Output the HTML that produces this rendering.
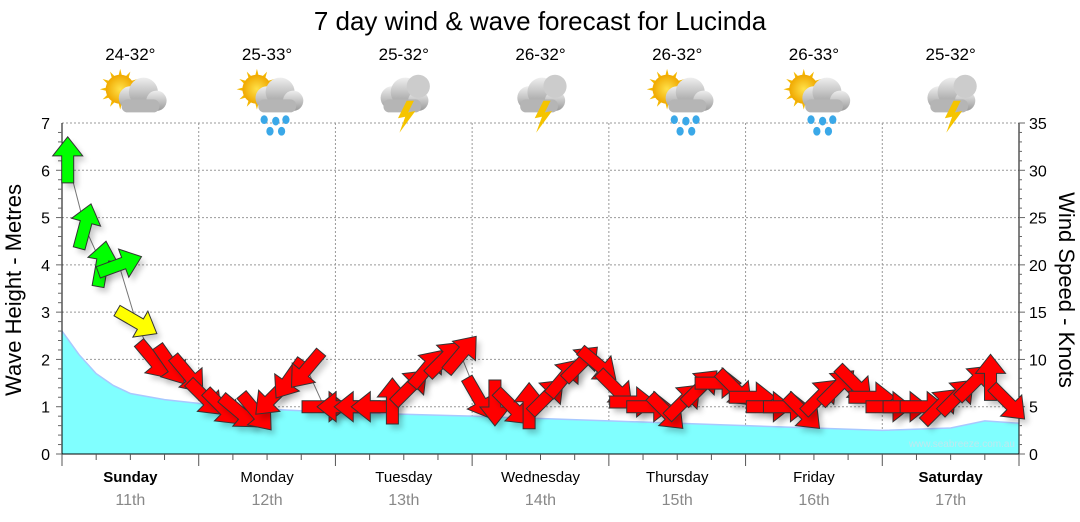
<!DOCTYPE html>
<html><head><meta charset="utf-8">
<style>
body{margin:0;background:#fff;font-family:"Liberation Sans",sans-serif;}
#wrap{position:relative;width:1080px;height:522px;overflow:hidden;}
svg text{font-family:"Liberation Sans",sans-serif;}
</style></head>
<body>
<div id="wrap">
<svg id="chart" width="1080" height="522" xmlns="http://www.w3.org/2000/svg">
<defs>
<filter id="sh" x="-50%" y="-50%" width="200%" height="200%"><feGaussianBlur stdDeviation="3"/></filter>
<radialGradient id="sun" cx="50%" cy="50%" r="50%"><stop offset="0" stop-color="#ffe24a"/><stop offset="1" stop-color="#f0a800"/></radialGradient>
<linearGradient id="cloud" x1="0" y1="0" x2="0" y2="1"><stop offset="0" stop-color="#eeeeee"/><stop offset="1" stop-color="#9a9a9a"/></linearGradient>
</defs>
<g id="grid"></g>
<g id="wave"></g>
<g id="axes"></g>
<g id="wind"></g>
<g id="icons"></g>
<text x="540" y="30" font-size="26" text-anchor="middle" fill="#000">7 day wind &amp; wave forecast for Lucinda</text>
<text transform="translate(21,290) rotate(-90)" font-size="22" text-anchor="middle">Wave Height - Metres</text>
<text transform="translate(1059,290) rotate(90)" font-size="22" text-anchor="middle">Wind Speed - Knots</text>
<text x="1015" y="447" font-size="10" text-anchor="end" fill="#bfe8ee">www.seabreeze.com.au</text>
</svg>
</div>
<script>
const days=["Sunday","Monday","Tuesday","Wednesday","Thursday","Friday","Saturday"];
const dates=["11th","12th","13th","14th","15th","16th","17th"];
const temps=["24-32°","25-33°","25-32°","26-32°","26-32°","26-33°","25-32°"];
const icons=["cloudsun","rainsun","storm","storm","rainsun","rainsun","storm"];
const waveHours=[0,3,6,9,12,18,24,36,48,72,96,120,144,156,162,168];
const waveHeights=[2.6,2.1,1.7,1.45,1.28,1.15,1.07,0.95,0.88,0.8,0.7,0.6,0.5,0.55,0.7,0.65];
const windHours=[1,4,7,10,13,16,19,22,25,28,31,34,37,40,43,46,49,52,55,58,61,64,67,70,73,76,79,82,85,88,91,94,97,100,103,106,109,112,115,118,121,124,127,130,133,136,139,142,145,148,151,154,157,160,163,166];
const windSpeeds=[31,24,20,20,14,10,9.5,8.5,6,5,4.5,4.5,6,8,9,5,5,5,5,5.5,7,9,10,10.5,6,5.5,5,5,6,8,9.5,9.5,7,5.5,5,4.5,5.5,7,7.5,7,6,5,5,4.5,6,7,7.5,6,5,5,5,5,6,7.5,8,5.5];
const windDirs=[0,15,10,70,120,140,145,140,135,135,130,140,225,215,220,90,270,270,270,0,45,40,45,40,150,180,135,0,45,40,45,130,135,90,90,135,45,45,90,135,90,90,90,135,45,45,135,90,90,90,90,45,45,45,0,135];

const NS="http://www.w3.org/2000/svg";
const X0=62,X1=1019,Y0=454,Y7=123;
const xH=h=>X0+(X1-X0)*h/168;
const yM=m=>Y0-(Y0-Y7)*m/7;
const yK=k=>Y0-(Y0-Y7)*k/35;
function mk(tag,attrs,parent){const e=document.createElementNS(NS,tag);for(const k in attrs)e.setAttribute(k,attrs[k]);parent.appendChild(e);return e;}
const grid=document.getElementById('grid'),axes=document.getElementById('axes'),wave=document.getElementById('wave'),wind=document.getElementById('wind'),ic=document.getElementById('icons');

for(let m=1;m<=7;m++){const l=mk('line',{x1:X0,x2:X1,y1:yM(m),y2:yM(m),stroke:'#999','stroke-dasharray':'2,2'},grid);

}
for(let d=1;d<7;d++){const l=mk('line',{x1:xH(d*24),x2:xH(d*24),y1:Y7,y2:Y0,stroke:'#999','stroke-dasharray':'2,2'},grid);

}

// wave
let pts=waveHours.map((h,i)=>xH(h)+','+yM(waveHeights[i]));
const wp=mk('polygon',{points:X0+','+Y0+' '+pts.join(' ')+' '+X1+','+Y0,fill:'#80ffff'},wave);


const wl=mk('polyline',{points:pts.join(' '),fill:'none',stroke:'#a8c8ff','stroke-width':1.5},wave);



// axes
mk('line',{x1:X0,x2:X0,y1:Y7,y2:Y0+8,stroke:'#000'},axes);
mk('line',{x1:X1,x2:X1,y1:Y7,y2:Y0,stroke:'#000'},axes);
mk('line',{x1:X0,x2:X1,y1:Y0,y2:Y0,stroke:'#000'},axes);
for(let m=0;m<=7;m+=0.2){mk('line',{x1:X0-(Math.abs(m-Math.round(m))<0.01?6:4),x2:X0,y1:yM(m),y2:yM(m),stroke:'#666'},axes);}
for(let m=0;m<=7;m++){const t=mk('text',{x:50,y:yM(m)+6,'font-size':16,'text-anchor':'end'},axes);t.textContent=m;

}
for(let k=0;k<=35;k++){mk('line',{x1:X1,x2:X1+(k%5==0?6:3),y1:yK(k),y2:yK(k),stroke:'#666'},axes);}
for(let k=0;k<=35;k+=5){const t=mk('text',{x:1029,y:yK(k)+6,'font-size':16},axes);t.textContent=k;

}
for(let h=0;h<=168;h+=6){mk('line',{x1:xH(h),x2:xH(h),y1:Y0,y2:Y0+(h%24==0?12:6),stroke:'#555'},axes);}
days.forEach((d,i)=>{const cx=xH(i*24+12);const bold=(i==0||i==6);
const t=mk('text',{x:cx,y:482,'font-size':15,'text-anchor':'middle','font-weight':bold?'bold':'normal'},axes);t.textContent=d;


const t2=mk('text',{x:cx,y:505,'font-size':16,'text-anchor':'middle',fill:'#888'},axes);t2.textContent=dates[i];


const t3=mk('text',{x:cx,y:60,'font-size':17,'text-anchor':'middle'},ic);t3.textContent=temps[i];


const g=mk('g',{transform:'translate('+cx+',95) scale(1.45)'},ic);


const type=icons[i];
if(type!='storm'){for(let a=0;a<360;a+=30){const r=a*Math.PI/180;mk('polygon',{points:[(-7+Math.cos(r)*14)+','+(-4+Math.sin(r)*14),(-7+Math.cos(r+0.2)*8)+','+(-4+Math.sin(r+0.2)*8),(-7+Math.cos(r-0.2)*8)+','+(-4+Math.sin(r-0.2)*8)].join(' '),fill:'#f5b800'},g);}
mk('circle',{cx:-7,cy:-4,r:10,fill:'url(#sun)'},g);}
const cx0=type=='storm'?-2:6;
mk('circle',{cx:cx0-6,cy:2,r:8,fill:'url(#cloud)'},g);mk('circle',{cx:cx0+3,cy:-2,r:10,fill:'url(#cloud)'},g);mk('circle',{cx:cx0+12,cy:4,r:7,fill:'url(#cloud)'},g);
mk('rect',{x:cx0-12,y:3,width:26,height:9,rx:4,fill:'#b5b5b5'},g);
if(type=='storm'){mk('circle',{cx:cx0+12,cy:-6,r:8,fill:'#ccc'},g);mk('polygon',{points:'2,4 -4,16 1,15 -3,26 8,11 3,12 7,4',fill:'#f5c400'},g);}
if(type=='rainsun'){[[-2,17],[6,18],[13,17],[2,25],[10,25]].forEach(p=>mk('ellipse',{cx:p[0],cy:p[1],rx:2.5,ry:3,fill:'#3aa8e8'},g));}
});

// wind
const lp=windHours.map((h,i)=>xH(h)+','+yK(windSpeeds[i])).join(' ');
const ln=mk('polyline',{points:lp,fill:'none',stroke:'#777','stroke-width':1},wind);


const arrowPts='0,-24 15,-5 6,-5 6,22 -6,22 -6,-5 -15,-5';
windHours.forEach((h,i)=>{const s=windSpeeds[i];const col=s>=15?'#00ff00':(s>=12?'#ffff00':'#ff0000');
const x=xH(h),y=yK(s);
mk('polygon',{points:arrowPts,fill:'#000',opacity:0.2,filter:'url(#sh)',transform:'translate('+(x+4)+','+(y+5)+') rotate('+windDirs[i]+')'},wind);
const a=mk('polygon',{points:arrowPts,fill:col,stroke:'#333','stroke-width':1,transform:'translate('+x+','+y+') rotate('+windDirs[i]+')'},wind);

});
</script>
</body></html>
